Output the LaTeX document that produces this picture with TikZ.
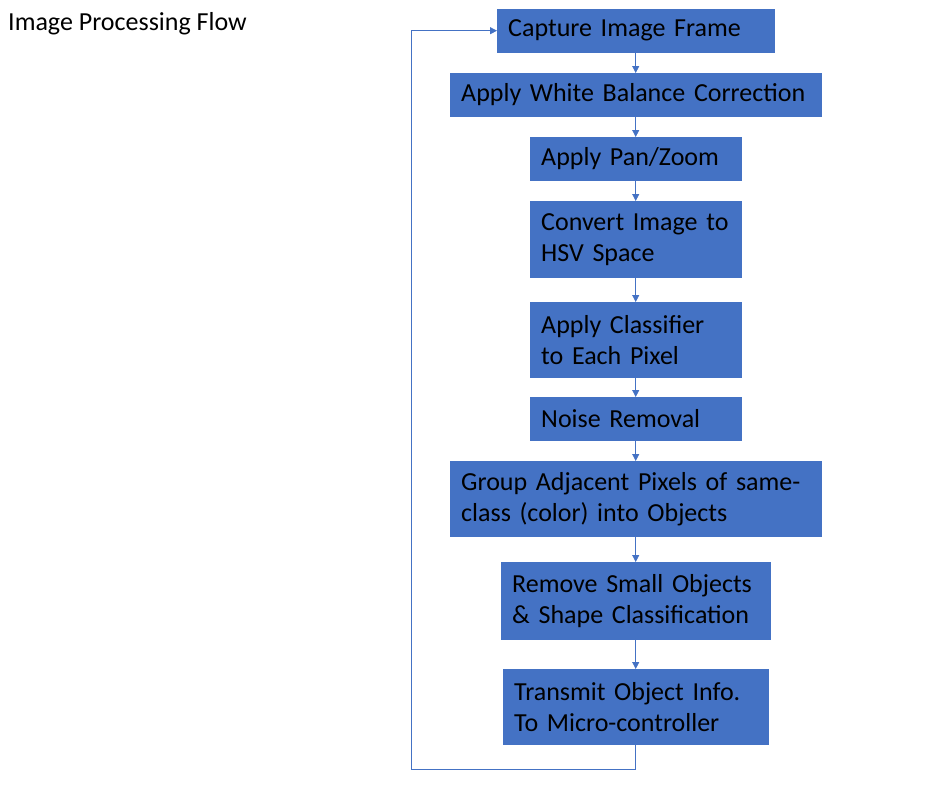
\documentclass[tikz,border=0pt]{standalone}
\usepackage{fontspec}
\setmainfont{Carlito}
\usetikzlibrary{arrows.meta, positioning}
\definecolor{boxblue}{HTML}{4472C4}

\begin{document}
\begin{tikzpicture}[x=1pt,y=-1pt,
        procbox/.style={draw=boxblue, fill=boxblue, anchor=north west, inner xsep=11pt, inner ysep=0pt,
            align=left, font=\fontsize{26}{31}\selectfont},
        flow/.style={draw=boxblue, line width=0.8pt, -{Triangle[width=7pt,length=7pt]}}]
        \useasboundingbox (0,0) rectangle (947,787);

        \node[anchor=base west, inner sep=0pt, font=\fontsize{26}{31}\selectfont] (title) at (8,30) {Image Processing Flow};

        \node[procbox, minimum width=277pt, minimum height=43pt, text width=255pt] (capture)   at (497,9)   {Capture Image Frame};
        \node[procbox, minimum width=371pt, minimum height=43pt, text width=349pt] (whitebal)  at (450,73)  {Apply White Balance Correction};
        \node[procbox, minimum width=211pt, minimum height=43pt, text width=189pt] (panzoom)   at (530,137) {Apply Pan/Zoom};
        \node[procbox, minimum width=211pt, minimum height=76pt, text width=189pt] (tohsv)     at (530,201) {Convert Image to\\HSV Space};
        \node[procbox, minimum width=211pt, minimum height=75pt, text width=189pt] (classify)  at (530,302) {Apply Classifier\\to Each Pixel};
        \node[procbox, minimum width=211pt, minimum height=43pt, text width=189pt] (denoise)   at (530,397) {Noise Removal};
        \node[procbox, minimum width=371pt, minimum height=75pt, text width=349pt] (group)     at (450,461) {Group Adjacent Pixels of same-\\class (color) into Objects};
        \node[procbox, minimum width=269pt, minimum height=77pt, text width=247pt] (shapes)    at (501,562) {Remove Small Objects\\\& Shape Classification};
        \node[procbox, minimum width=265pt, minimum height=75pt, text width=243pt] (transmit)  at (503,669) {Transmit Object Info.\\To Micro-controller};

        \coordinate (loopbl) at (411,769);

        \draw[flow] (capture) -- (whitebal);
        \draw[flow] (whitebal) -- (panzoom);
        \draw[flow] (panzoom) -- (tohsv);
        \draw[flow] (tohsv) -- (classify);
        \draw[flow] (classify) -- (denoise);
        \draw[flow] (denoise) -- (group);
        \draw[flow] (group) -- (shapes);
        \draw[flow] (shapes) -- (transmit);
        \draw[flow] (transmit.south) -- (transmit.south |- loopbl) -- (loopbl) |- (capture.west);
    \end{tikzpicture}
\end{document}
